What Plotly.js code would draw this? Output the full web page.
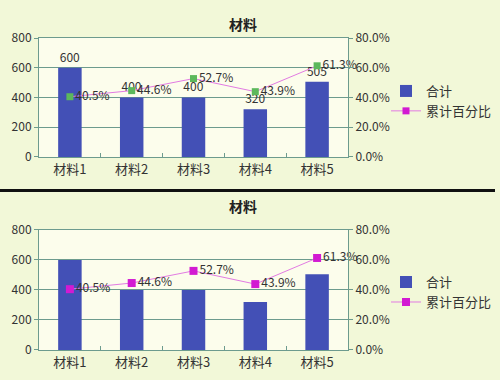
<!DOCTYPE html>
<html><head><meta charset="utf-8">
<script src="https://cdn.plot.ly/plotly-3.0.1.min.js"></script>
<style>html,body{margin:0;padding:0;background:#f2f8d8;}#c{width:500px;height:380px;}</style>
</head><body><div id="c"></div>
<script>
const categories = ['材料1','材料2','材料3','材料4','材料5'];
const totals = [600, 400, 400, 320, 505];
const cumPct = [0.405, 0.446, 0.527, 0.439, 0.613];
const chartTitle = '材料';
const barName = '合计';
const lineName = '累计百分比';

const FONT = '"Noto Sans CJK SC", "DejaVu Sans", sans-serif';
const barColor = '#4350b6';
const lineColor = '#e27be2';
const magenta = '#d21ad2';
const green = '#5cb85c';
const gridColor = '#6d9b8e';
const txt = '#333333';

const pctText = cumPct.map(v => (v*100).toFixed(1) + '%');

const traces = [
  {type:'bar', x:categories, y:totals, name:barName, marker:{color:barColor},
   text: totals.map(String), textposition:'outside', cliponaxis:false,
   textfont:{family:FONT,size:12,color:txt}, xaxis:'x', yaxis:'y', legend:'legend'},
  {type:'scatter', mode:'lines+markers+text', x:categories, y:cumPct, name:lineName,
   line:{color:lineColor,width:1}, marker:{symbol:'square',size:7,color:green},
   text:pctText, textposition:'middle right', cliponaxis:false,
   textfont:{family:FONT,size:12,color:txt}, xaxis:'x', yaxis:'y2', showlegend:false},
  {type:'scatter', mode:'lines+markers', x:[null], y:[null], name:lineName,
   line:{color:lineColor,width:1}, marker:{symbol:'square',size:7,color:magenta},
   xaxis:'x', yaxis:'y2', legend:'legend'},
  {type:'bar', x:categories, y:totals, name:barName, marker:{color:barColor},
   xaxis:'x2', yaxis:'y3', legend:'legend2'},
  {type:'scatter', mode:'lines+markers+text', x:categories, y:cumPct, name:lineName,
   line:{color:lineColor,width:1}, marker:{symbol:'square',size:8,color:magenta},
   text:pctText, textposition:'middle right', cliponaxis:false,
   textfont:{family:FONT,size:12,color:txt}, xaxis:'x2', yaxis:'y4', legend:'legend2'}
];

function xa(anchor){
  return {domain:[0.078,0.696], anchor:anchor, showline:true, linecolor:gridColor, mirror:true,
    ticks:'inside', ticklen:4, tickcolor:gridColor, tickson:'boundaries',
    tickfont:{family:FONT,size:13,color:txt}, fixedrange:true};
}
function ya(dom, anchor){
  return {domain:dom, anchor:anchor, range:[0,800], dtick:200, showgrid:true, gridcolor:gridColor,
    showline:true, linecolor:gridColor, mirror:true, ticks:'outside', ticklen:4, tickcolor:gridColor,
    zeroline:false, tickfont:{family:FONT,size:12,color:txt}};
}
function ya2(over, anchor){
  return {overlaying:over, anchor:anchor, side:'right', range:[0,0.8], dtick:0.2, tickformat:'.1%',
    showgrid:false, zeroline:false, showline:true, linecolor:gridColor, ticks:'outside', ticklen:4,
    tickcolor:gridColor, tickfont:{family:FONT,size:12,color:txt}};
}

const layout = {
  width:500, height:380, margin:{l:0,r:0,t:0,b:0},
  paper_bgcolor:'#f2f8d8', plot_bgcolor:'#fcfdec',
  bargap:0.62, showlegend:true,
  xaxis: xa('y'), yaxis: ya([0.587,0.9],'x'), yaxis2: ya2('y','x'),
  xaxis2: xa('y3'), yaxis3: ya([0.079,0.395],'x2'), yaxis4: ya2('y3','x2'),
  legend:{x:0.772,y:0.8,xanchor:'left',yanchor:'top',bgcolor:'rgba(0,0,0,0)',
    font:{family:FONT,size:13,color:txt}, itemwidth:30, tracegroupgap:0},
  legend2:{x:0.772,y:0.297,xanchor:'left',yanchor:'top',bgcolor:'rgba(0,0,0,0)',
    font:{family:FONT,size:13,color:txt}, itemwidth:30, tracegroupgap:0},
  annotations:[
    {text:'<b>'+chartTitle+'</b>', x:0.486, y:1-12/380, xref:'paper', yref:'paper', showarrow:false,
     font:{family:FONT,size:14,color:'#222'}},
    {text:'<b>'+chartTitle+'</b>', x:0.486, y:1-206/380, xref:'paper', yref:'paper', showarrow:false,
     font:{family:FONT,size:14,color:'#222'}}
  ],
  shapes:[
    {type:'line', xref:'paper', yref:'paper', x0:0, x1:0.99, y0:1-190.5/380, y1:1-190.5/380,
     line:{color:'#111',width:3}}
  ]
};

Plotly.newPlot('c', traces, layout, {displayModeBar:false, staticPlot:true});
</script></body></html>
